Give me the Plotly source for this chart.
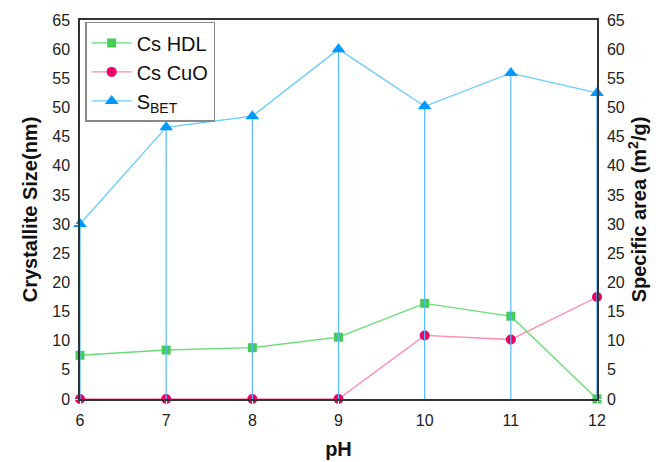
import plotly.graph_objects as go

ph = [6, 7, 8, 9, 10, 11, 12]
cs_hdl = [7.5, 8.4, 8.8, 10.6, 16.4, 14.2, 0]
cs_cuo = [0, 0, 0, 0, 10.9, 10.2, 17.5]
s_bet = [30, 46.6, 48.5, 60, 50.2, 55.9, 52.5]
y_ticks = list(range(0, 70, 5))

FONT = "Arial, Liberation Sans, sans-serif"

fig = go.Figure()

# drop lines from S_BET points
fig.add_trace(go.Scatter(
    x=ph, y=s_bet, yaxis="y2", mode="markers", marker=dict(size=0.1, color="rgba(0,0,0,0)"),
    error_y=dict(type="data", symmetric=False, array=[0] * len(ph), arrayminus=s_bet,
                 width=0, color="#55bbff", thickness=1.2),
    showlegend=False, hoverinfo="skip", cliponaxis=False))

fig.add_trace(go.Scatter(
    x=ph, y=cs_hdl, name="Cs HDL", mode="lines+markers",
    line=dict(color="#66dd77", width=1.3),
    marker=dict(symbol="square", size=9, color="#44cc55"), cliponaxis=False))
fig.add_trace(go.Scatter(
    x=ph, y=cs_cuo, name="Cs CuO", mode="lines+markers",
    line=dict(color="#ff88aa", width=1.3),
    marker=dict(symbol="circle", size=10, color="#ee0066"), cliponaxis=False))
fig.add_trace(go.Scatter(
    x=ph, y=s_bet, name="S<sub>BET</sub>", yaxis="y2", mode="lines+markers",
    line=dict(color="#66ccff", width=1.3),
    marker=dict(symbol="triangle-up", size=12, color="#0099ff"), cliponaxis=False))

fig.update_layout(
    width=665, height=462,
    margin=dict(l=80, r=68, t=20, b=63),
    paper_bgcolor="white", plot_bgcolor="white",
    font=dict(family=FONT, size=16, color="#222"),
    xaxis=dict(range=[6, 12], tickvals=ph, ticktext=[str(v) for v in ph],
               showgrid=False, zeroline=False, showline=True, linecolor="#333", linewidth=1.5,
               mirror=True, ticks="outside", ticklen=6, tickcolor="white", automargin=False,
               title=dict(text="<b>pH</b>", font=dict(size=20, color="#111"), standoff=14)),
    yaxis=dict(range=[0, 65], tickvals=y_ticks, showgrid=False, zeroline=False,
               showline=True, linecolor="#333", linewidth=1.5, automargin=False,
               ticks="outside", ticklen=5, tickcolor="white",
               title=dict(text="<b>Crystallite Size(nm)</b>", font=dict(size=20, color="#111"), standoff=9)),
    yaxis2=dict(range=[0, 65], tickvals=y_ticks, overlaying="y", side="right",
                showgrid=False, zeroline=False, showline=True, linecolor="#333", linewidth=1.5,
                ticks="outside", ticklen=5, tickcolor="white", automargin=False,
                title=dict(text="<b>Specific area (m<sup>2</sup>/g)</b>", font=dict(size=20, color="#111"), standoff=8)),
    legend=dict(x=0.01, y=0.995, xanchor="left", yanchor="top",
                bgcolor="white", bordercolor="#888", borderwidth=1.5,
                font=dict(size=20, color="#111"), tracegroupgap=0, itemwidth=40),
    showlegend=True,
)

fig.write_html("out.html")
